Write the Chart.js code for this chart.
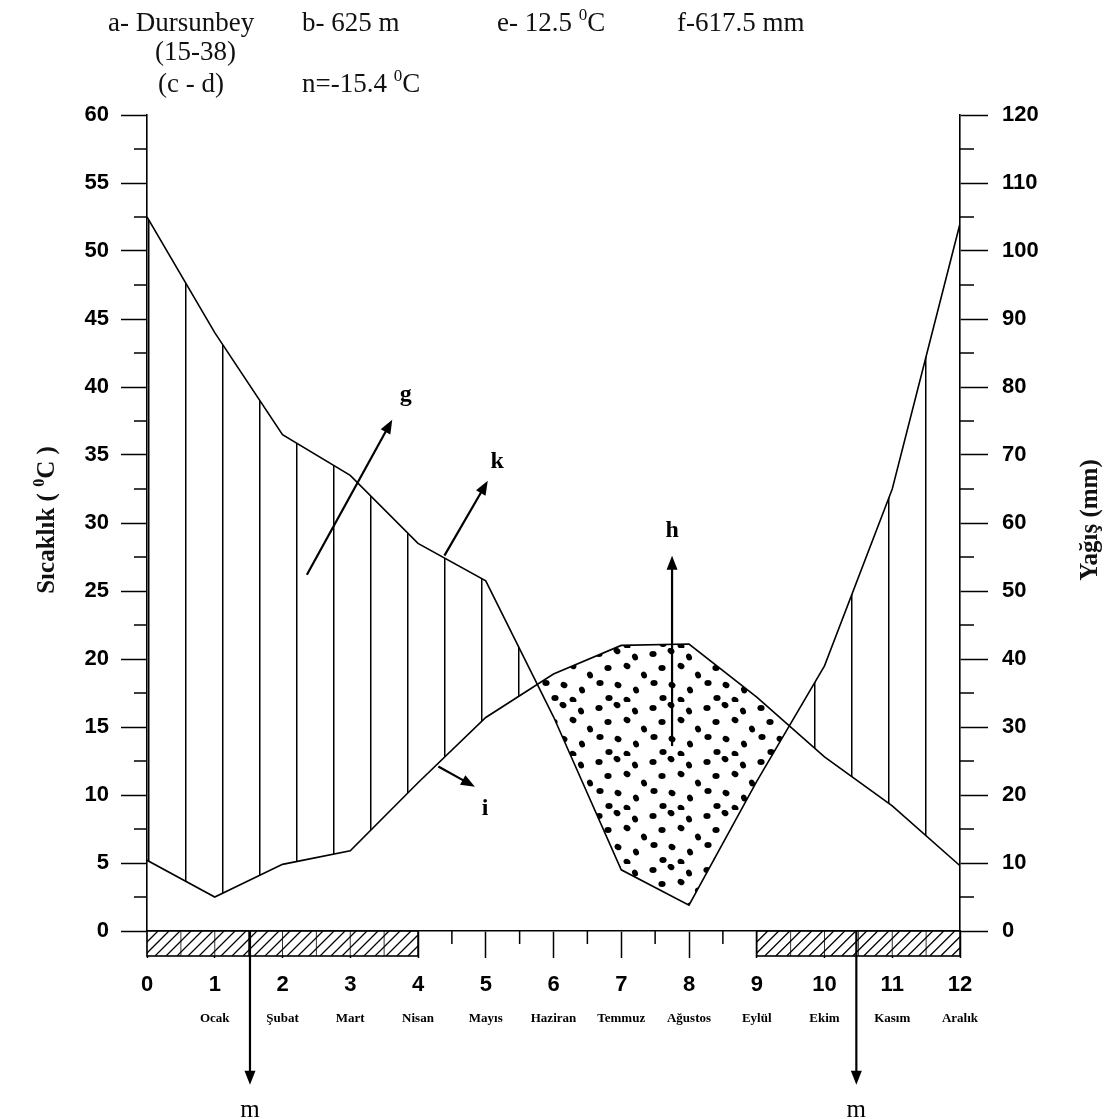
<!DOCTYPE html>
<html>
<head>
<meta charset="utf-8">
<script src="https://cdn.jsdelivr.net/npm/chart.js@4.4.1/dist/chart.umd.min.js"></script>
<style>
  body { margin: 0; background: #fff; }
  canvas { display: block; }
</style>
</head>
<body>
<canvas id="climate" width="1117" height="1119"></canvas>
<script>
// month positions on the x axis (0 = previous December)
const monthPos = [0, 1, 2, 3, 4, 5, 6, 7, 8, 9, 10, 11, 12];
const monthNames = ['', 'Ocak', 'Şubat', 'Mart', 'Nisan', 'Mayıs', 'Haziran', 'Temmuz', 'Ağustos', 'Eylül', 'Ekim', 'Kasım', 'Aralık'];

// mean temperature (°C, left axis)
const temperature = [5.2, 2.5, 4.9, 5.9, 10.9, 15.7, 18.9, 21.0, 21.1, 17.2, 12.8, 9.2, 4.8];
// mean precipitation (mm, right axis)
const precipitation = [105, 88, 73, 67, 57, 51.5, 31.5, 9, 3.8, 22, 39, 65, 104];

// frost periods (month positions)
const frostStart = [0, 9];
const frostEnd = [4, 12];

const serif = '"Liberation Serif", "Times New Roman", serif';
const sans = '"Liberation Sans", Arial, sans-serif';

// vertical hatch for humid period
function hatchPattern() {
  const c = document.createElement('canvas');
  c.width = 37; c.height = 10;
  const g = c.getContext('2d');
  g.fillStyle = '#000';
  g.fillRect(0, 0, 1.5, 10);
  return g.createPattern(c, 'repeat');
}

// dots for arid period
function dotPattern() {
  const c = document.createElement('canvas');
  c.width = 54; c.height = 54;
  const g = c.getContext('2d');
  g.fillStyle = '#000';
  const dots = [[5, 6], [23, 3], [41, 9], [14, 20], [33, 18], [50, 27], [6, 35], [24, 37], [42, 42], [15, 50], [33, 52]];
  dots.forEach(([dx, dy], i) => {
    g.beginPath();
    g.ellipse(dx, dy, 3.6, 2.9, (i % 3) * 0.6, 0, Math.PI * 2);
    g.fill();
  });
  return g.createPattern(c, 'repeat');
}

function richText(ctx, parts, x, y, size, weight, align) {
  const fontFor = p => `${weight} ${p.sup ? Math.round(size * 0.62) : size}px ${serif}`;
  let total = 0;
  parts.forEach(p => { ctx.font = fontFor(p); p.w = ctx.measureText(p.t).width; total += p.w; });
  let cx = align === 'center' ? x - total / 2 : x;
  ctx.textAlign = 'left';
  parts.forEach(p => {
    ctx.font = fontFor(p);
    ctx.fillText(p.t, cx, p.sup ? y - size * 0.42 : y);
    cx += p.w;
  });
}

function arrow(ctx, x1, y1, x2, y2) {
  const ang = Math.atan2(y2 - y1, x2 - x1);
  const len = 14, half = 5.5;
  ctx.beginPath();
  ctx.moveTo(x1, y1);
  ctx.lineTo(x2 - Math.cos(ang) * len * 0.8, y2 - Math.sin(ang) * len * 0.8);
  ctx.stroke();
  ctx.beginPath();
  ctx.moveTo(x2, y2);
  ctx.lineTo(x2 - Math.cos(ang) * len - Math.sin(ang) * half, y2 - Math.sin(ang) * len + Math.cos(ang) * half);
  ctx.lineTo(x2 - Math.cos(ang) * len + Math.sin(ang) * half, y2 - Math.sin(ang) * len - Math.cos(ang) * half);
  ctx.closePath();
  ctx.fill();
}

// annotation arrows, in (month, °C) coordinates
const notes = [
  { label: 'g', from: [2.36, 26.2], to: [3.62, 37.6], at: [3.82, 39.4] },
  { label: 'k', from: [4.39, 27.6], to: [5.03, 33.1], at: [5.17, 34.5] },
  { label: 'h', from: [7.75, 13.6], to: [7.75, 27.6], at: [7.75, 29.4] },
  { label: 'i', from: [4.3, 12.1], to: [4.84, 10.6], at: [4.99, 9.0] },
  { label: 'm', from: [1.52, 0], to: [1.52, -11.3], at: [1.52, -13.2] },
  { label: 'm', from: [10.47, 0], to: [10.47, -11.3], at: [10.47, -13.2] }
];

const decor = {
  id: 'decor',
  afterDraw(chart) {
    const { ctx, chartArea: a, scales: { x, y, y2 } } = chart;
    ctx.save();
    ctx.strokeStyle = '#000';
    ctx.fillStyle = '#000';

    // minor ticks
    ctx.lineWidth = 1.5;
    ctx.beginPath();
    for (let v = 2.5; v < 60; v += 5) {
      const py = y.getPixelForValue(v);
      ctx.moveTo(a.left - 13, py); ctx.lineTo(a.left, py);
    }
    for (let v = 5; v < 120; v += 10) {
      const py = y2.getPixelForValue(v);
      ctx.moveTo(a.right, py); ctx.lineTo(a.right + 14, py);
    }
    for (let v = 0.5; v < 12; v += 1) {
      const px = x.getPixelForValue(v);
      ctx.moveTo(px, a.bottom); ctx.lineTo(px, a.bottom + 13);
    }
    ctx.stroke();

    // frost bars
    const barH = 25;
    frostStart.forEach((s, i) => {
      const x1 = x.getPixelForValue(s), x2 = x.getPixelForValue(frostEnd[i]);
      const top = a.bottom, bot = a.bottom + barH;
      ctx.fillStyle = '#fff';
      ctx.fillRect(x1, top, x2 - x1, barH);
      ctx.save();
      ctx.beginPath();
      ctx.rect(x1, top, x2 - x1, barH);
      ctx.clip();
      ctx.lineWidth = 1.3;
      ctx.beginPath();
      for (let hx = x1 - barH; hx < x2 + barH; hx += 11) {
        ctx.moveTo(hx, bot); ctx.lineTo(hx + barH, top);
      }
      ctx.stroke();
      ctx.lineWidth = 0.8;
      ctx.beginPath();
      for (let v = s + 0.5; v < frostEnd[i]; v += 0.5) {
        const px = x.getPixelForValue(v);
        ctx.moveTo(px, top); ctx.lineTo(px, bot);
      }
      ctx.stroke();
      ctx.restore();
      ctx.lineWidth = 1.6;
      ctx.strokeRect(x1, top, x2 - x1, barH);
    });

    // annotation arrows and letters
    ctx.fillStyle = '#000';
    ctx.lineWidth = 2.2;
    notes.forEach(n => {
      arrow(ctx, x.getPixelForValue(n.from[0]), y.getPixelForValue(n.from[1]),
        x.getPixelForValue(n.to[0]), y.getPixelForValue(n.to[1]));
      ctx.font = (n.label === 'm' ? 'normal 25px ' : 'bold 24px ') + serif;
      ctx.textAlign = 'center';
      ctx.textBaseline = 'middle';
      ctx.fillText(n.label, x.getPixelForValue(n.at[0]), y.getPixelForValue(n.at[1]));
    });

    // header
    ctx.fillStyle = '#111';
    ctx.textBaseline = 'alphabetic';
    const hs = 27;
    richText(ctx, [{ t: 'a- Dursunbey' }], 108, 31, hs, 'normal', 'left');
    richText(ctx, [{ t: 'b- 625 m' }], 302, 31, hs, 'normal', 'left');
    richText(ctx, [{ t: 'e- 12.5 ' }, { t: '0', sup: true }, { t: 'C' }], 497, 31, hs, 'normal', 'left');
    richText(ctx, [{ t: 'f-617.5 mm' }], 677, 31, hs, 'normal', 'left');
    richText(ctx, [{ t: '(15-38)' }], 155, 60, hs, 'normal', 'left');
    richText(ctx, [{ t: '(c - d)' }], 158, 92, hs, 'normal', 'left');
    richText(ctx, [{ t: 'n=-15.4 ' }, { t: '0', sup: true }, { t: 'C' }], 302, 92, hs, 'normal', 'left');

    // axis titles
    ctx.save();
    ctx.translate(54, 520);
    ctx.rotate(-Math.PI / 2);
    richText(ctx, [{ t: 'Sıcaklık ( ' }, { t: '0', sup: true }, { t: 'C )' }], 0, 0, 25, 'bold', 'center');
    ctx.restore();
    ctx.save();
    ctx.translate(1097, 520);
    ctx.rotate(-Math.PI / 2);
    richText(ctx, [{ t: 'Yağış (mm)' }], 0, 0, 25, 'bold', 'center');
    ctx.restore();

    ctx.restore();
  }
};

const axisFont = { family: sans, size: 22, weight: 'bold' };

new Chart(document.getElementById('climate'), {
  type: 'line',
  data: {
    datasets: [
      {
        label: 'Yağış',
        data: monthPos.map((m, i) => ({ x: m, y: precipitation[i] })),
        yAxisID: 'y2',
        borderColor: '#000',
        borderWidth: 1.6,
        pointRadius: 0,
        tension: 0,
        fill: { target: 1, above: hatchPattern(), below: dotPattern() }
      },
      {
        label: 'Sıcaklık',
        data: monthPos.map((m, i) => ({ x: m, y: temperature[i] })),
        yAxisID: 'y',
        borderColor: '#000',
        borderWidth: 1.6,
        pointRadius: 0,
        tension: 0,
        fill: false
      }
    ]
  },
  options: {
    responsive: false,
    animation: false,
    devicePixelRatio: 1,
    layout: { padding: { top: 115, bottom: 88, left: 0, right: 0 } },
    plugins: { legend: { display: false }, tooltip: { enabled: false } },
    scales: {
      x: {
        type: 'linear', position: 'bottom', min: 0, max: 12,
        ticks: { stepSize: 1, autoSkip: false, maxRotation: 0, color: '#000', font: axisFont, padding: 14 },
        grid: { drawOnChartArea: false, tickLength: 27, color: '#000', tickWidth: 1.5 },
        border: { color: '#000', width: 1.6 },
        afterFit: s => { s.height = 70; }
      },
      xMonths: {
        type: 'linear', position: 'bottom', min: 0, max: 12,
        ticks: {
          stepSize: 1, autoSkip: false, maxRotation: 0, color: '#000', padding: 10,
          font: { family: serif, size: 13, weight: 'bold' },
          callback: v => monthNames[v] || ''
        },
        grid: { display: false, drawTicks: false },
        border: { display: false },
        afterFit: s => { s.height = 30; }
      },
      y: {
        position: 'left', min: 0, max: 60,
        ticks: { stepSize: 5, color: '#000', font: axisFont, padding: 12 },
        grid: { drawOnChartArea: false, tickLength: 26, color: '#000', tickWidth: 1.5 },
        border: { color: '#000', width: 1.6 },
        afterFit: s => { s.width = 147; }
      },
      y2: {
        position: 'right', min: 0, max: 120,
        ticks: { stepSize: 10, color: '#000', font: axisFont, padding: 14 },
        grid: { drawOnChartArea: false, tickLength: 28, color: '#000', tickWidth: 1.5 },
        border: { color: '#000', width: 1.6 },
        afterFit: s => { s.width = 157; }
      }
    }
  },
  plugins: [decor]
});
</script>
</body>
</html>
